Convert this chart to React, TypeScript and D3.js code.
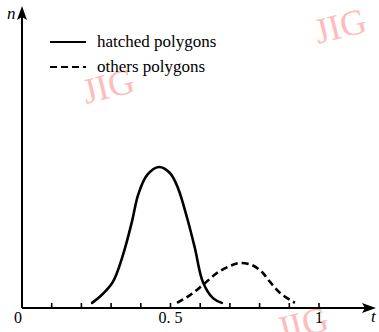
import * as d3 from 'd3';
import { FC } from 'react';

const hatchedT = [0.236, 0.27, 0.306, 0.34, 0.37, 0.391, 0.421, 0.461, 0.498, 0.525, 0.556, 0.582, 0.609, 0.643, 0.673];
const hatchedN = [0.017, 0.045, 0.087, 0.177, 0.287, 0.377, 0.443, 0.47, 0.45, 0.4, 0.3, 0.2, 0.087, 0.033, 0.017];

const othersT = [0.522, 0.566, 0.609, 0.657, 0.7, 0.734, 0.774, 0.808, 0.835, 0.869, 0.919];
const othersN = [0.017, 0.043, 0.077, 0.117, 0.14, 0.15, 0.143, 0.12, 0.087, 0.05, 0.017];

const tickValues = [0.1, 0.2, 0.3, 0.4, 0.5, 0.6, 0.7, 0.8, 0.9, 1];
const tickLabels = [
  { v: 0, label: '0' },
  { v: 0.5, label: '0. 5' },
  { v: 1, label: '1' },
];
const legendItems = [
  { name: 'hatched polygons', dash: 'none' },
  { name: 'others polygons', dash: '7,4' },
];

const W = 379;
const H = 332;

const App: FC = () => {
  const x = d3.scaleLinear().domain([0, 1]).range([22, 319]);
  const y = d3.scaleLinear().domain([0, 1]).range([308, 8]);

  const line = d3
    .line<[number, number]>()
    .x((d) => x(d[0]))
    .y((d) => y(d[1]))
    .curve(d3.curveCatmullRom.alpha(0.5));

  const hatched = hatchedT.map((t, i) => [t, hatchedN[i]] as [number, number]);
  const others = othersT.map((t, i) => [t, othersN[i]] as [number, number]);

  const serif = { fontFamily: "'Liberation Serif', 'DejaVu Serif', serif" };
  const x0 = x(0);
  const y0 = y(0);

  return (
    <svg
      width={W}
      height={H}
      style={{ position: 'absolute', left: 0, top: 0, background: '#fff' }}
    >
      {/* watermarks */}
      <g fill="#ffbcbc" fontSize={36} style={serif}>
        <text transform="translate(318,44) rotate(-14)">JIG</text>
        <text transform="translate(86,104) rotate(-14)">JIG</text>
        <text transform="translate(280,342) rotate(-14)">JIG</text>
      </g>

      {/* axes */}
      <line x1={x0} y1={y0} x2={368} y2={y0} stroke="#000" strokeWidth={2} />
      <path d={`M376,${y0} L362,${y0 - 5} L365,${y0} L362,${y0 + 5} Z`} fill="#000" />
      <line x1={x0} y1={y0} x2={x0} y2={16} stroke="#000" strokeWidth={2} />
      <path d={`M${x0},6 L${x0 - 5},20 L${x0},17 L${x0 + 5},20 Z`} fill="#000" />

      {tickValues.map((v) => (
        <line key={v} x1={x(v)} x2={x(v)} y1={y0} y2={y0 - 5} stroke="#000" strokeWidth={1.6} />
      ))}
      {tickLabels.map((d) => (
        <text key={d.label} x={x(d.v) - (d.v === 0 ? 4 : 0)} y={323} textAnchor="middle" fontSize={16} style={serif}>
          {d.label}
        </text>
      ))}
      <text x={371} y={322} fontSize={17} fontStyle="italic" style={serif}>t</text>
      <text x={7} y={19} fontSize={17} fontStyle="italic" style={serif}>n</text>

      {/* curves */}
      <path d={line(hatched)!} fill="none" stroke="#000" strokeWidth={2.6} strokeLinecap="round" />
      <path d={line(others)!} fill="none" stroke="#000" strokeWidth={2.6} strokeDasharray="7,4" />

      {/* legend */}
      {legendItems.map((d, i) => (
        <g key={d.name} transform={`translate(50,${42 + i * 25})`}>
          <line x1={0} x2={36} y1={0} y2={0} stroke="#000" strokeWidth={2} strokeDasharray={d.dash} />
          <text x={47} y={5} fontSize={17} style={serif}>
            {d.name}
          </text>
        </g>
      ))}
    </svg>
  );
};

export default App;
